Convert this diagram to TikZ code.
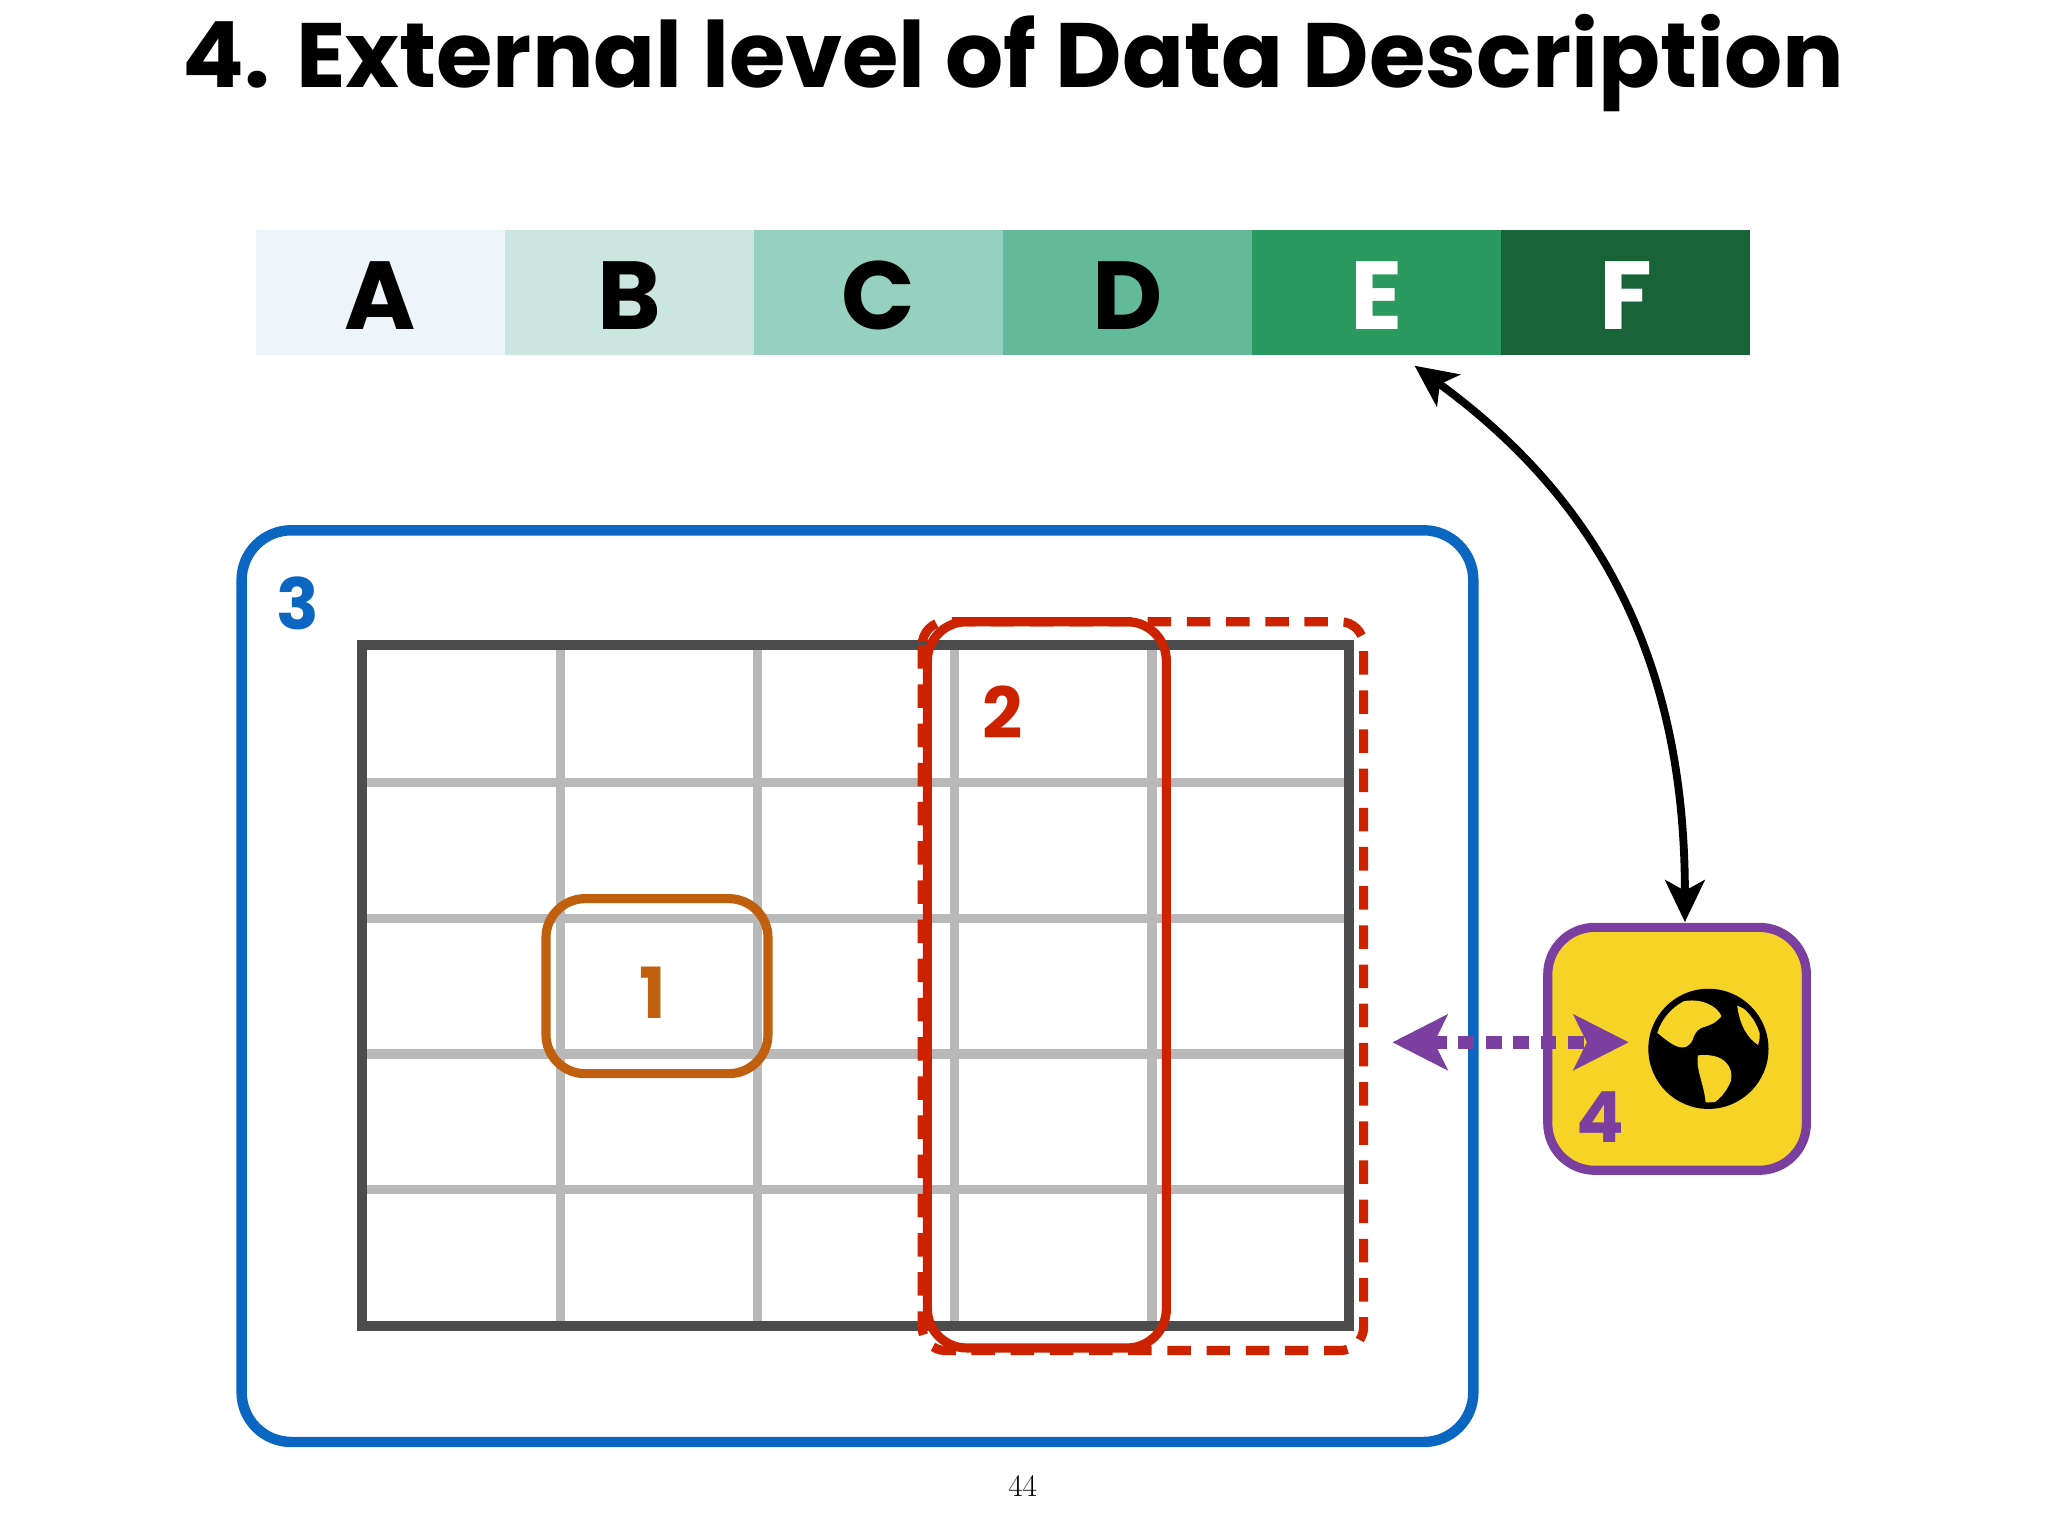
\documentclass[tikz,border=0pt]{standalone}
\usepackage{fontspec}
\setmainfont{Latin Modern Roman}
\newfontfamily\pop{Poppins}
\usetikzlibrary{arrows.meta}
\definecolor{cA}{HTML}{EEF5FA}\definecolor{cB}{HTML}{CBE6DF}\definecolor{cC}{HTML}{96D1BF}
\definecolor{cD}{HTML}{62BA9A}\definecolor{cE}{HTML}{2A9A5E}\definecolor{cF}{HTML}{186337}
\definecolor{blu}{HTML}{0B66C2}\definecolor{org}{HTML}{C0600F}\definecolor{rd}{HTML}{CC2200}
\definecolor{pur}{HTML}{7B3FA0}\definecolor{yel}{HTML}{F5D327}
\begin{document}
\begin{tikzpicture}[x=1pt,y=-1pt,
  big/.style={font=\pop\bfseries\fontsize{74}{74}\selectfont},
  num/.style={font=\pop\bfseries\fontsize{54}{54}\selectfont}]
\useasboundingbox (0,0) rectangle (1568,1176);
\node[font=\pop\bfseries\fontsize{70}{70}\selectfont] (title) at (776,48) {4. External level of Data Description};
% bar
\foreach \c/\l/\t [count=\i from 0] in {cA/A/black,cB/B/black,cC/C/black,cD/D/black,cE/E/white,cF/F/white}{
  \fill[\c] (196+\i*190.7,176) rectangle ++(190.7,96);
  \node[big,text=\t] (bar\l) at (196+\i*190.7+95,226) {\l};
}
\coordinate (barE) at (1083,280);
% blue box
\draw[blu,line width=8pt,rounded corners=38] (185,406) rectangle (1128,1104);
\node[num,text=blu] (n3) at (228,462) {3};
% grid
\foreach \x in {429,580,731,882} \draw[gray!55,line width=7pt] (\x,494) -- (\x,1015);
\foreach \y in {599,703,807,911} \draw[gray!55,line width=7pt] (277,\y) -- (1033,\y);
\draw[gray!60!black,line width=8pt] (277,494) rectangle (1033,1015);
% orange
\draw[org,line width=7pt,rounded corners=30] (418,688) rectangle (588,822);
\node[num,text=org] (n1) at (500,760) {1};
% red
\draw[rd,line width=7pt,dash pattern=on 18pt off 12pt,rounded corners=18] (706,476) rectangle (1044,1034);
\draw[rd,line width=7pt,rounded corners=30] (710,476) rectangle (893,1032);
\node[num,text=rd] (n2) at (768,545) {2};
% yellow box
\draw[pur,fill=yel,line width=7pt,rounded corners=36] (1185,710) rectangle (1383,896);
\coordinate (ytop) at (1290,706);
\node[num,text=pur] (n4) at (1225,855) {4};
\fill[black] (1308,803) circle (46);
\begin{scope}
\clip (1308,803) circle (41);
\fill[yel] (1270,776) .. controls (1288,760) and (1312,765) .. (1318,778) .. controls (1308,790) and (1300,782) .. (1296,796) .. controls (1290,808) and (1280,800) .. (1268,790) -- cycle;
\fill[yel] (1300,808) .. controls (1318,806) and (1328,815) .. (1325,828) .. controls (1320,840) and (1312,845) .. (1306,848) .. controls (1306,832) and (1298,820) .. (1300,808) -- cycle;
\fill[yel] (1330,770) .. controls (1345,775) and (1350,790) .. (1346,800) .. controls (1338,795) and (1332,785) .. (1330,770) -- cycle;
\end{scope}
% arrows
\draw[line width=6pt,{Stealth[length=32pt,width=30pt,inset=8pt]}-{Stealth[length=32pt,width=30pt,inset=8pt]}] (barE) .. controls (1220,380) and (1290,500) .. (ytop);
\coordinate (pl) at (1066,798); \coordinate (pr) at (1247,798);
\draw[pur,line width=10pt,dash pattern=on 12pt off 9pt,{Stealth[length=42pt,width=42pt,inset=10pt]}-{Stealth[length=42pt,width=42pt,inset=10pt]}] (pl) -- (pr);
\node[font=\fontsize{24}{24}\selectfont] (pg) at (783,1138) {44};
\end{tikzpicture}
\end{document}
